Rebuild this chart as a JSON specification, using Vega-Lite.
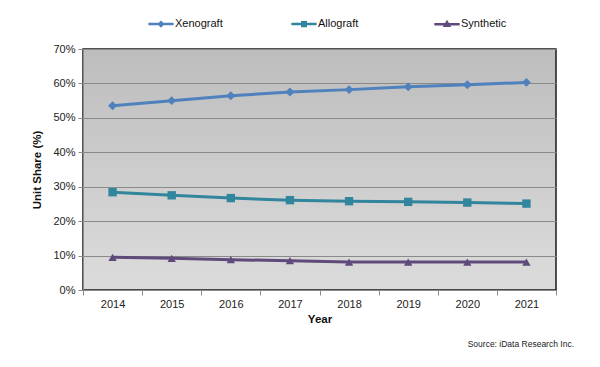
{
  "$schema": "https://vega.github.io/schema/vega-lite/v6.json",
  "width": 473,
  "height": 241,
  "autosize": "none",
  "padding": {"left": 83, "top": 49, "right": 44, "bottom": 77},
  "background": "white",
  "config": {
    "font": "Liberation Sans",
    "view": {
      "stroke": "#1a1a1a",
      "strokeWidth": 1.5,
      "fill": {"gradient": "linear", "x1": 0, "y1": 0, "x2": 0, "y2": 1, "stops": [{"offset": 0, "color": "#bdbdbd"}, {"offset": 1, "color": "#dcdcdc"}]}
    },
    "axis": {"labelFont": "Liberation Sans", "labelFontSize": 11, "labelColor": "#222", "titleFont": "Liberation Sans", "titleFontSize": 11.5, "titleFontWeight": "bold", "titleColor": "#111", "domainColor": "#8a8a8a", "tickColor": "#8a8a8a"}
  },
  "title": {"text": "Source: iData Research Inc.", "orient": "bottom", "anchor": "end", "frame": "group", "fontSize": 8.5, "fontWeight": "normal", "color": "#222", "font": "Liberation Sans", "offset": 15, "dx": 18},
  "data": {"values": [
    {"year": "2014", "series": "Xenograft", "share": 53.5},
    {"year": "2015", "series": "Xenograft", "share": 55.0},
    {"year": "2016", "series": "Xenograft", "share": 56.4},
    {"year": "2017", "series": "Xenograft", "share": 57.5},
    {"year": "2018", "series": "Xenograft", "share": 58.2},
    {"year": "2019", "series": "Xenograft", "share": 59.0},
    {"year": "2020", "series": "Xenograft", "share": 59.6},
    {"year": "2021", "series": "Xenograft", "share": 60.3},
    {"year": "2014", "series": "Allograft", "share": 28.4},
    {"year": "2015", "series": "Allograft", "share": 27.5},
    {"year": "2016", "series": "Allograft", "share": 26.7},
    {"year": "2017", "series": "Allograft", "share": 26.1},
    {"year": "2018", "series": "Allograft", "share": 25.8},
    {"year": "2019", "series": "Allograft", "share": 25.6},
    {"year": "2020", "series": "Allograft", "share": 25.4},
    {"year": "2021", "series": "Allograft", "share": 25.1},
    {"year": "2014", "series": "Synthetic", "share": 9.5},
    {"year": "2015", "series": "Synthetic", "share": 9.2},
    {"year": "2016", "series": "Synthetic", "share": 8.8},
    {"year": "2017", "series": "Synthetic", "share": 8.5},
    {"year": "2018", "series": "Synthetic", "share": 8.1},
    {"year": "2019", "series": "Synthetic", "share": 8.1},
    {"year": "2020", "series": "Synthetic", "share": 8.1},
    {"year": "2021", "series": "Synthetic", "share": 8.1}
  ]},
  "encoding": {
    "x": {"field": "year", "type": "nominal", "bandPosition": 0.5,
      "scale": {"type": "band", "paddingInner": 0, "paddingOuter": 0},
      "axis": {"title": "Year", "labelAngle": 0, "tickBand": "extent", "tickSize": 5, "labelPadding": 3, "titlePadding": 4}},
    "y": {"field": "share", "type": "quantitative",
      "scale": {"domain": [0, 70]},
      "axis": {"title": "Unit Share (%)", "values": [0, 10, 20, 30, 40, 50, 60, 70], "labelExpr": "datum.value + '%'", "grid": true, "gridColor": "#8a8a8a", "gridWidth": 1, "tickSize": 5, "labelPadding": 3, "titlePadding": 10}},
    "color": {"field": "series", "type": "nominal",
      "scale": {"domain": ["Xenograft", "Allograft", "Synthetic"], "range": ["#4f81bd", "#31859c", "#604a7b"]},
      "legend": {"orient": "none", "legendX": 70, "legendY": -33, "direction": "horizontal", "title": null, "labelFontSize": 11, "labelColor": "#111", "labelFont": "Liberation Sans", "gridAlign": "all", "columnPadding": 63, "symbolSize": 160, "labelOffset": 6,
        "encode": {"symbols": {"update": {
          "shape": {"signal": "datum.value === 'Xenograft' ? 'M-2,0H2M-0.3,0L0,-0.3L0.3,0L0,0.3Z' : datum.value === 'Allograft' ? 'M-2,0H2M-0.28,-0.28H0.28V0.28H-0.28Z' : 'M-2,0H2M-0.32,0.22L0,-0.32L0.32,0.22Z'"},
          "fill": {"scale": "color", "field": "value"},
          "stroke": {"scale": "color", "field": "value"},
          "strokeWidth": {"value": 2.5}
        }}}}
    }
  },
  "layer": [
    {"mark": {"type": "line", "strokeWidth": 3}},
    {"transform": [{"filter": "datum.series === 'Xenograft'"}], "mark": {"type": "point", "filled": true, "opacity": 1, "size": 80, "shape": "diamond"}},
    {"transform": [{"filter": "datum.series === 'Allograft'"}], "mark": {"type": "point", "filled": true, "opacity": 1, "size": 70, "shape": "square"}},
    {"transform": [{"filter": "datum.series === 'Synthetic'"}], "mark": {"type": "point", "filled": true, "opacity": 1, "size": 70, "shape": "triangle-up"}}
  ]
}
